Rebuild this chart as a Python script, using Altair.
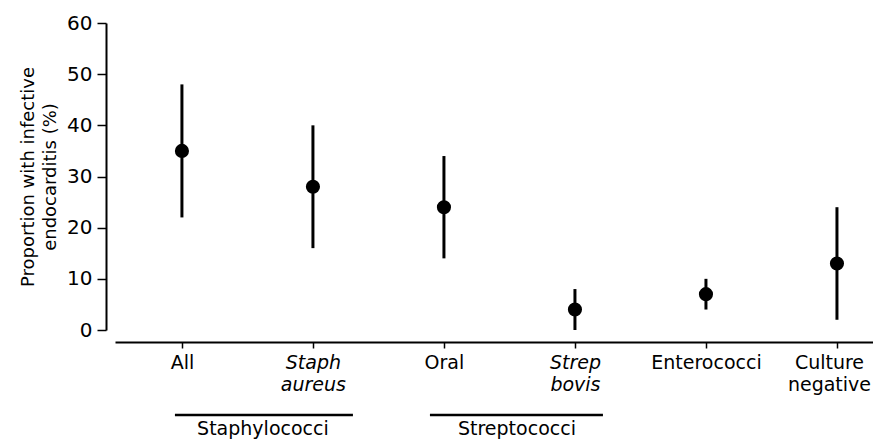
import altair as alt
import pandas as pd

categories = ["All", "Staph aureus", "Oral", "Strep bovis", "Enterococci", "Culture negative"]
estimates = [35, 28, 24, 4, 7, 13]
lower = [22, 16, 14, 0, 4, 2]
upper = [48, 40, 34, 8, 10, 24]

group_names = ["Staphylococci", "Streptococci"]
group_start = ["All", "Oral"]
group_end = ["Staph aureus", "Strep bovis"]

df = pd.DataFrame({"cat": categories, "est": estimates, "lo": lower, "hi": upper})
gdf = pd.DataFrame({"name": group_names, "start": group_start, "end": group_end})

FONT = "DejaVu Sans"
W, H = 758, 307

xscale = alt.Scale(type="point", domain=categories, padding=0.393, align=0.65)
yscale = alt.Scale(domain=[0, 60], nice=False)

italic_test = "datum.value == 'Staph aureus' || datum.value == 'Strep bovis'"

x_axis = alt.Axis(
    title=None, offset=12, domainWidth=2, domainColor="black",
    tickColor="black", tickWidth=1.5, tickSize=6,
    labelFont=FONT, labelFontSize=19, labelColor="black", labelPadding=5,
    labelAngle=0, labelLineHeight=22, labelOverlap=False, labelBound=False,
    labelExpr="indexof(datum.value, ' ') > 0 ? split(datum.value, ' ') : datum.value",
    labelFontStyle={"condition": {"test": italic_test, "value": "italic"}, "value": "normal"},
    labelOffset={"condition": {"test": "datum.value == 'Culture negative'", "value": -8}, "value": 0},
    grid=False,
)
y_axis = alt.Axis(
    title=["Proportion with infective", "endocarditis (%)"],
    titleFont=FONT, titleFontSize=18, titleFontWeight="normal", titleColor="black",
    titleLineHeight=22, titlePadding=7,
    offset=9, domainWidth=2, domainColor="black", tickColor="black", tickWidth=1.5,
    tickSize=9, values=[0, 10, 20, 30, 40, 50, 60],
    labelFont=FONT, labelFontSize=20, labelColor="black", labelPadding=5, grid=False,
)

base = alt.Chart(df)

bars = base.mark_rule(color="black", strokeWidth=3).encode(
    x=alt.X("cat:N", scale=xscale, axis=x_axis, sort=categories),
    y=alt.Y("lo:Q", scale=yscale, axis=y_axis),
    y2="hi:Q",
)
points = base.mark_circle(color="black", opacity=1, size=200).encode(
    x=alt.X("cat:N", scale=xscale, sort=categories),
    y=alt.Y("est:Q", scale=yscale),
)

layers = [bars, points]
# (line start offset, line end offset, label offset) relative to the start category
offsets = {"Staphylococci": (-7, 40, 81), "Streptococci": (-14, 28, 73)}
for name in group_names:
    o1, o2, ol = offsets[name]
    sub = alt.Chart(gdf[gdf["name"] == name])
    line = sub.mark_rule(color="black", strokeWidth=2.5, xOffset=o1, x2Offset=o2).encode(
        x=alt.X("start:N", scale=xscale, sort=categories),
        x2="end:N",
        y=alt.value(H + 85),
    )
    lbl = sub.mark_text(
        font=FONT, fontSize=19, color="black", baseline="alphabetic", align="center", dx=ol
    ).encode(
        x=alt.X("start:N", scale=xscale, sort=categories),
        y=alt.value(H + 105),
        text="name:N",
    )
    layers += [line, lbl]

chart = alt.layer(*layers).properties(
    width=W, height=H,
    autosize=alt.AutoSizeParams(type="none"),
    padding={"left": 107, "top": 15, "right": 0, "bottom": 110},
    background="white",
).configure_view(stroke=None)

chart.save("out.html", embed_options={"renderer": "svg", "actions": False})
